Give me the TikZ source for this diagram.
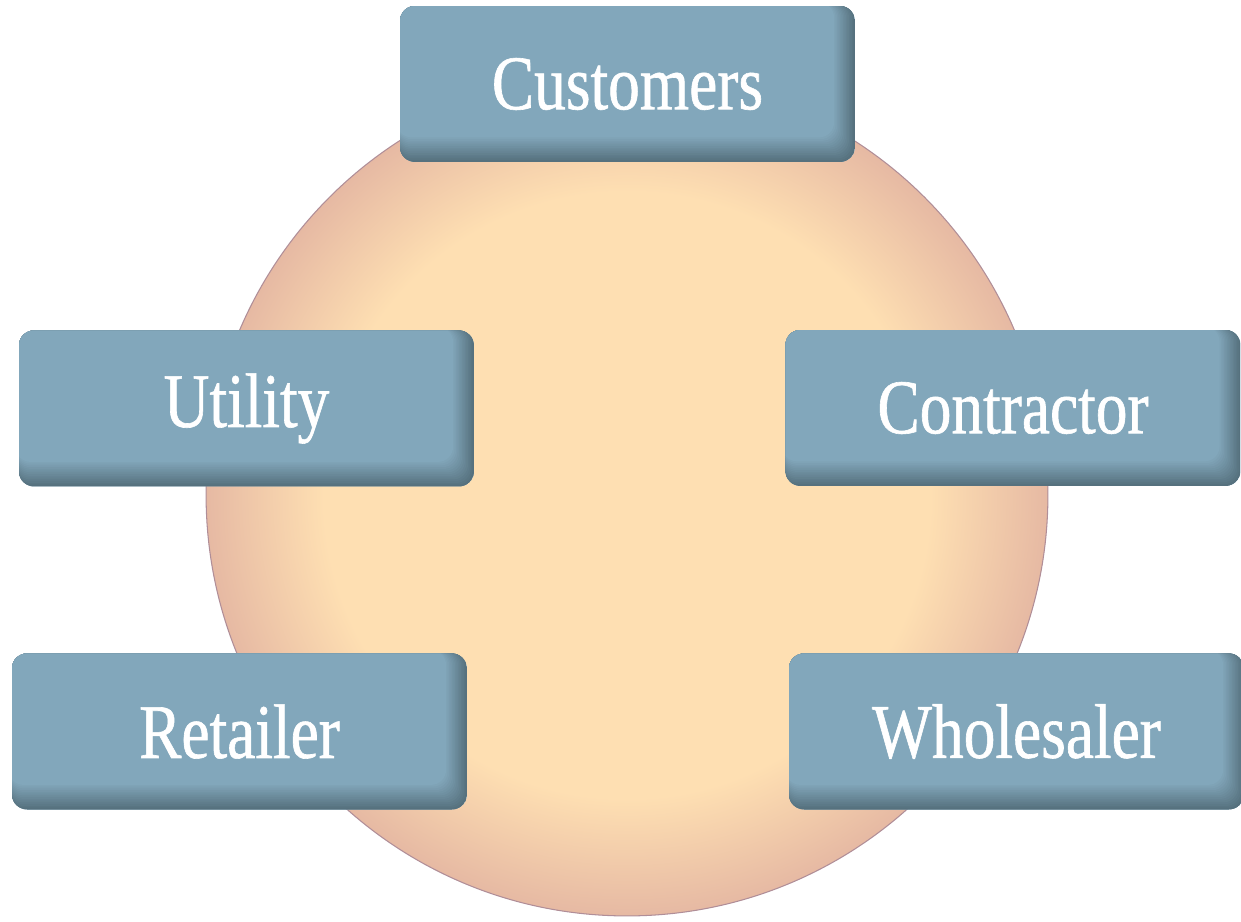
\documentclass[tikz,border=0pt]{standalone}
\usepackage{fontspec}
\setmainfont{Liberation Serif}[FakeStretch=0.82, FakeBold=0.8]
\usepackage{xcolor}
\usepackage{tikz}
\usetikzlibrary{positioning}
\definecolor{boxblue}{HTML}{83A8BC}
\definecolor{boxdark}{HTML}{56717E}
\definecolor{peachin}{HTML}{FEDFB2}
\definecolor{peachout}{HTML}{E6B9A3}
\definecolor{rimline}{HTML}{B08E98}
\pgfdeclareradialshading{peachball}{\pgfpoint{0bp}{0bp}}{color(0bp)=(peachin); color(18bp)=(peachin); color(25bp)=(peachout); color(50bp)=(peachout)}
\tikzstyle{block} = [fill=boxblue, rectangle, rounded corners=0.3cm, minimum width=9.1cm, minimum height=3.12cm, text=white, font=\fontsize{44}{50}\selectfont,
	path picture={
		\foreach \k [evaluate=\k as \mix using 100-\k*7] in {0,...,14}
			\fill [boxdark!\mix!boxblue] ([xshift=-2pt, yshift=2pt]path picture bounding box.north west) rectangle ([xshift={-\k*0.85pt}, yshift={\k*1pt}]path picture bounding box.south east);
	}]
\tikzstyle{ball} = [circle, draw=rimline, line width=0.6pt, shading=peachball, minimum size=16.84cm]

\begin{document}
\begin{tikzpicture}[x=0.02cm, y=-0.02cm]
		\useasboundingbox (0,0) rectangle (1241,921);
		\node [ball] (market) at (627,495) {};
		
		\node [block] (customers) at (627.5,84) {Customers};
		\node [block] (utility) at (246.5,408.5) {Utility};
		\node [block] (contractor) at (1013,408) {Contractor};
		\node [block] (retailer) at (239.5,731.5) {Retailer};
		\node [block] (wholesaler) at (1016.5,731.5) {Wholesaler};
	\end{tikzpicture}
\end{document}
